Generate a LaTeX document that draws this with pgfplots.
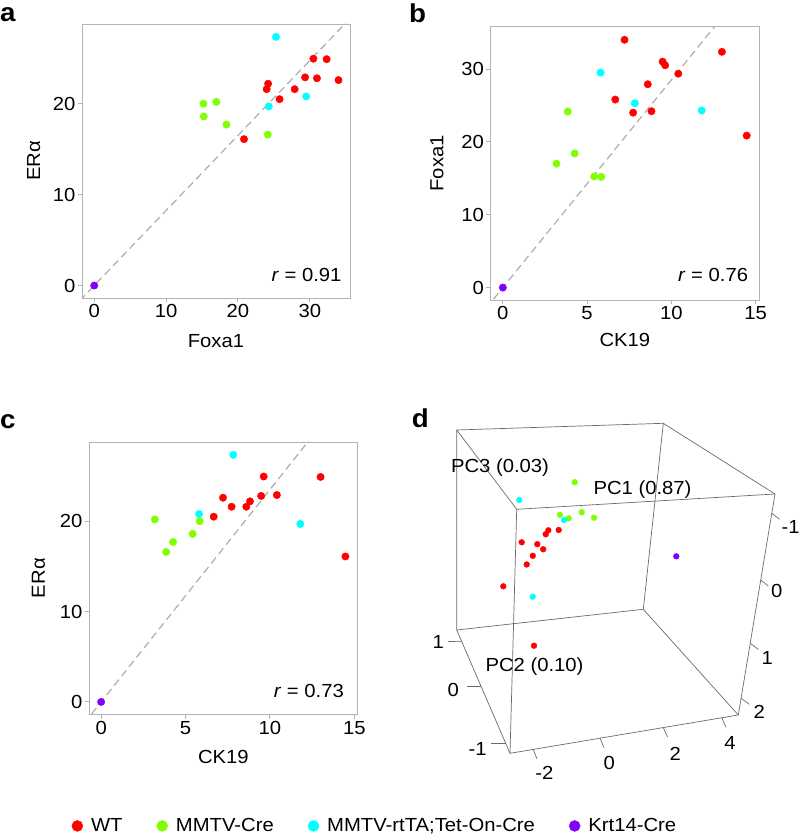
\documentclass[border=0pt]{standalone}
\usepackage{fontspec}
\setmainfont{Liberation Sans}[FakeStretch=1.07]
\usepackage{pgfplots}
\usepackage{pgfplotstable}
\pgfplotsset{compat=1.18}
\definecolor{cWT}{HTML}{FF0000}
\definecolor{cMM}{HTML}{80FF00}
\definecolor{cRT}{HTML}{00FFFF}
\definecolor{cKR}{HTML}{7F00FF}
\definecolor{framec}{HTML}{B3B3B3}
\definecolor{dline}{HTML}{ADADAD}
\definecolor{boxc}{HTML}{6A6A6A}
\newcommand{\fs}{\fontsize{19}{22}\selectfont}

% ck19 foxa1 era
\pgfplotstableread{
ck19 foxa1 era
7.22 34.0 22.6
13.0 32.35 24.9
9.48 31.0 22.8
9.63 30.5 24.95
10.41 29.35 22.9
8.6 27.9 21.6
6.67 25.8 20.5
7.73 24.0 21.6
8.82 24.2 22.2
14.47 20.85 16.1
}\tWT
\pgfplotstableread{
ck19 foxa1 era
3.85 24.15 16.6
3.18 17.0 20.2
4.26 18.4 17.7
5.42 15.25 18.6
5.84 15.2 20.0
}\tMM
\pgfplotstableread{
ck19 foxa1 era
7.83 25.3 27.35
5.80 29.5 20.8
11.80 24.3 19.7
}\tRT
\pgfplotstableread{
ck19 foxa1 era
0 0 0
}\tKR
% PCA projection (picture coordinates)
\pgfplotstableread{
px py
521.7 542.3
537.3 544.2
543.2 549.3
532.8 555.8
526.7 564.5
545.7 534.3
548.3 530.3
558.7 530.0
503.3 586.3
534.0 645.7
}\dWT
\pgfplotstableread{
px py
574.7 482.2
560.0 514.8
568.8 518.3
581.7 512.2
594.0 517.7
}\dMM
\pgfplotstableread{
px py
519.3 500.0
564.0 520.0
532.7 596.7
}\dRT
\pgfplotstableread{
px py
676.3 556.3
}\dKR

\pgfplotsset{
  panel/.style={scale only axis,
    axis line style={draw=framec, line width=0.9bp},
    tick style={draw=framec, line width=0.9bp},
    tick align=outside, major tick length=4.5bp, tick pos=left,
    tick label style={font=\fs, text=black, inner sep=2bp},
    /pgf/number format/assume math mode=true,
    label style={font=\fs},
    clip mode=individual},
  grp/.style={only marks, mark=*, mark size=3.7bp, color=#1,
    legend image code/.code={\fill[#1] (0bp,0bp) circle (5.5bp);}},
  fit/.style={draw=dline, dash pattern=on 7.5bp off 4.5bp, line width=1.2bp, forget plot},
}

\begin{document}
\begin{tikzpicture}[x=1bp,y=1bp]
\path[use as bounding box] (0,0) rectangle (800,836);

% panel letters
\node[anchor=base west, inner sep=0, font=\fontsize{26}{30}\selectfont\bfseries] at (0,814) {a};
\node[anchor=base west, inner sep=0, font=\fontsize{26}{30}\selectfont\bfseries] at (409,813.3) {b};
\node[anchor=base west, inner sep=0, font=\fontsize{26}{30}\selectfont\bfseries] at (0,407.7) {c};
\node[anchor=base west, inner sep=0, font=\fontsize{26}{30}\selectfont\bfseries] at (411.7,408) {d};

% ---------- a ----------
\begin{axis}[panel, at={(82bp,538bp)}, anchor=south west, width=268bp, height=274bp,
  xmin=-1.7, xmax=35.6, ymin=-1.37, ymax=28.77,
  xtick={0,10,20,30}, ytick={0,10,20},
  xlabel={Foxa1}, ylabel={ERα},
  xlabel style={at={(axis description cs:0.5,-0.18)}, anchor=base},
  ylabel style={at={(axis description cs:-0.1567,0.5)}, anchor=base}]
\addplot[fit] coordinates {(-2,-1.65) (36,29.7)};
\addplot[grp=cWT] table[x=foxa1,y=era] {\tWT};
\addplot[grp=cMM] table[x=foxa1,y=era] {\tMM};
\addplot[grp=cRT] table[x=foxa1,y=era] {\tRT};
\addplot[grp=cKR] table[x=foxa1,y=era] {\tKR};
\node[anchor=base east, inner sep=0, font=\fs] at (rel axis cs:0.969,0.062) {\textit{r} = 0.91};
\end{axis}

% ---------- b ----------
\begin{axis}[panel, at={(490.7bp,536bp)}, anchor=south west, width=268.3bp, height=273.3bp,
  xmin=-0.72, xmax=15.2, ymin=-1.7, ymax=35.8,
  xtick={0,5,10,15}, ytick={0,10,20,30},
  xlabel={CK19}, ylabel={Foxa1},
  xlabel style={at={(axis description cs:0.5,-0.1709)}, anchor=base},
  ylabel style={at={(axis description cs:-0.1767,0.5)}, anchor=base}]
\addplot[fit] coordinates {(-1,-2.85) (16,45.6)};
\addplot[grp=cWT] table[x=ck19,y=foxa1] {\tWT};
\addplot[grp=cMM] table[x=ck19,y=foxa1] {\tMM};
\addplot[grp=cRT] table[x=ck19,y=foxa1] {\tRT};
\addplot[grp=cKR] table[x=ck19,y=foxa1] {\tKR};
\node[anchor=base east, inner sep=0, font=\fs] at (rel axis cs:0.960,0.067) {\textit{r} = 0.76};
\end{axis}

% ---------- c ----------
\begin{axis}[panel, at={(89bp,121.7bp)}, anchor=south west, width=268.7bp, height=272.3bp,
  xmin=-0.72, xmax=15.2, ymin=-1.37, ymax=28.77,
  xtick={0,5,10,15}, ytick={0,10,20},
  xlabel={CK19}, ylabel={ERα},
  xlabel style={at={(axis description cs:0.5,-0.18)}, anchor=base},
  ylabel style={at={(axis description cs:-0.1638,0.5)}, anchor=base},
  legend columns=4, legend cell align=left,
  legend style={at={(axis description cs:1.064,-0.41)}, anchor=center, draw=none, fill=none,
    font=\fs, /tikz/every even column/.append style={column sep=32bp},
    /tikz/every odd column/.append style={column sep=6bp}}]
\addplot[fit] coordinates {(-1,-2.35) (16,37.6)};
\addplot[grp=cWT] table[x=ck19,y=era] {\tWT};
\addplot[grp=cMM] table[x=ck19,y=era] {\tMM};
\addplot[grp=cRT] table[x=ck19,y=era] {\tRT};
\addplot[grp=cKR] table[x=ck19,y=era] {\tKR};
\legend{WT, MMTV-Cre, MMTV-rtTA;Tet-On-Cre, Krt14-Cre}
\node[anchor=base east, inner sep=0, font=\fs] at (rel axis cs:0.949,0.0625) {\textit{r} = 0.73};
\end{axis}

% ---------- d ----------
\begin{axis}[at={(400bp,36bp)}, anchor=south west, scale only axis, width=400bp, height=420bp,
  xmin=400, xmax=800, ymin=380, ymax=800, y dir=reverse, axis lines=none, clip=false]
% back face
\addplot[boxc, line width=0.7bp] coordinates {(456.7,630) (456.7,430) (663.3,423.3) (643.3,609.3) (456.7,630)};
% front face
\addplot[boxc, line width=0.7bp] coordinates {(516.7,509.3) (775,494) (738.3,715) (510,753.3) (516.7,509.3)};
% connecting edges
\addplot[boxc, line width=0.7bp] coordinates {(456.7,430) (516.7,509.3)};
\addplot[boxc, line width=0.7bp] coordinates {(663.3,423.3) (775,494)};
\addplot[boxc, line width=0.7bp] coordinates {(643.3,609.3) (738.3,715)};
\addplot[boxc, line width=0.7bp] coordinates {(456.7,630) (510,753.3)};
% left ticks
\addplot[boxc, line width=0.7bp] coordinates {(448.3,641.5) (461.7,641.7)};
\addplot[boxc, line width=0.7bp] coordinates {(466.7,686) (480.7,686)};
\addplot[boxc, line width=0.7bp] coordinates {(490.7,743.3) (505.7,743.3)};
% bottom ticks
\addplot[boxc, line width=0.7bp] coordinates {(533.3,749.4) (537,759)};
\addplot[boxc, line width=0.7bp] coordinates {(600,738.2) (604,747.5)};
\addplot[boxc, line width=0.7bp] coordinates {(663.3,727.6) (667.5,737)};
\addplot[boxc, line width=0.7bp] coordinates {(721.7,717.8) (726,727.3)};
% right ticks
\addplot[boxc, line width=0.7bp] coordinates {(771.8,513.3) (779.5,519.3)};
\addplot[boxc, line width=0.7bp] coordinates {(760.7,580) (768.3,586)};
\addplot[boxc, line width=0.7bp] coordinates {(750.2,643.3) (758.3,649.3)};
\addplot[boxc, line width=0.7bp] coordinates {(741.1,698.3) (749.3,704.3)};
% points
\addplot[grp=cWT, mark size=2.9bp] table[x=px,y=py] {\dWT};
\addplot[grp=cMM, mark size=2.9bp] table[x=px,y=py] {\dMM};
\addplot[grp=cRT, mark size=2.9bp] table[x=px,y=py] {\dRT};
\addplot[grp=cKR, mark size=2.9bp] table[x=px,y=py] {\dKR};
% labels
\node[font=\fs, inner sep=0] at (axis cs:500,467.8) {PC3 (0.03)};
\node[font=\fs, inner sep=0] at (axis cs:642.5,489.3) {PC1 (0.87)};
\node[font=\fs, inner sep=0] at (axis cs:534.5,666.7) {PC2 (0.10)};
\node[font=\fs, inner sep=0] at (axis cs:438.3,642.3) {1};
\node[font=\fs, inner sep=0] at (axis cs:453.3,690) {0};
\node[font=\fs, inner sep=0] at (axis cs:477.7,749) {-1};
\node[font=\fs, inner sep=0] at (axis cs:544.3,772.7) {-2};
\node[font=\fs, inner sep=0] at (axis cs:609.3,762.7) {0};
\node[font=\fs, inner sep=0] at (axis cs:675.3,754) {2};
\node[font=\fs, inner sep=0] at (axis cs:730,742.7) {4};
\node[font=\fs, inner sep=0] at (axis cs:790.5,526.7) {-1};
\node[font=\fs, inner sep=0] at (axis cs:776.7,590.7) {0};
\node[font=\fs, inner sep=0] at (axis cs:767.3,657.7) {1};
\node[font=\fs, inner sep=0] at (axis cs:759.3,711.7) {2};
\end{axis}
\end{tikzpicture}
\end{document}
